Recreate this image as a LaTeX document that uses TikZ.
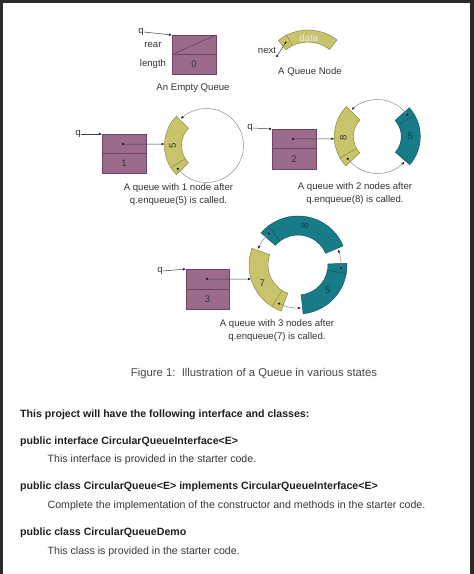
\documentclass[tikz,border=0pt]{standalone}
\usepackage{fontspec}
\setmainfont{Liberation Sans}
\usetikzlibrary{arrows.meta}

\definecolor{qpurple}{HTML}{9C6B8C}
\definecolor{qpurpleD}{HTML}{6E4463}
\definecolor{qyellow}{HTML}{C8C46C}
\definecolor{qyellowD}{HTML}{8C8842}
\definecolor{qteal}{HTML}{187B88}
\definecolor{qtealD}{HTML}{0F5662}
\definecolor{qline}{HTML}{8E8E8E}
\definecolor{qtext}{HTML}{333333}
\definecolor{qframe}{HTML}{2A2A2A}

\newcommand{\dfont}{\fontsize{9.6}{13}\selectfont}
\newcommand{\bodyfont}{\fontsize{10.6}{12}\selectfont}
\newcommand{\capfont}{\fontsize{11.3}{13}\selectfont}

% annular band: #1 start, #2 end, #3 inner r, #4 outer r, #5 fill, #6 draw, #7 compartment angle
\newcommand{\qband}[7]{%
  \filldraw[fill=#5, draw=#6, line width=0.5pt] (#1:#4) arc[start angle=#1, end angle=#2, radius=#4] -- (#2:#3) arc[start angle=#2, end angle=#1, radius=#3] -- cycle;
  \draw[draw=#6, line width=0.5pt] (#7:#3) -- (#7:#4);}

\begin{document}
\begin{tikzpicture}[x=1pt,y=-1pt,
  lbl/.style={text=qtext, font=\dfont, inner sep=0pt},
  qbox/.style={fill=qpurple, draw=qpurpleD, line width=0.5pt},
  ptr/.style={draw=qline, line width=0.5pt, -{Latex[length=3pt,width=2.6pt,color=black!85]}},
  ptrk/.style={draw=black!75, line width=0.5pt, -{Latex[length=3pt,width=2.6pt,color=black!85]}},
  body/.style={anchor=west, inner sep=0pt, font=\bodyfont, text=black!88}]
\useasboundingbox (0,0) rectangle (474,574);
\fill[qframe] (0,0) rectangle (474,574);
\fill[white] (3,2.5) rectangle (470,574);

% ---------------- empty queue ----------------
\fill[qbox] (172,35) rectangle (216,74);
\draw[qpurpleD, line width=0.5pt] (172,54.5) -- (216,54.5);
\draw[qpurpleD, line width=0.7pt] (172,54.5) -- (216,35);
\coordinate (e0) at (172,35);
\node[lbl] (eq) at (141,32) {q};
\draw[ptrk] (eq.east) -- (e0);
\node[lbl] (erear) at (153,45) {rear};
\node[lbl] (elen) at (153,64.5) {length};
\node[lbl] (ezero) at (194,64.5) {0};
\node[lbl] (ecap) at (193,88) {An Empty Queue};

% ---------------- a queue node ----------------
\begin{scope}[shift={(308,77)}, yscale=-1]
  \qband{52}{129}{35}{47}{qyellow}{qyellowD}{117}
  \coordinate (qnd) at (123:41);
  \coordinate (qdata) at (89:39);
\end{scope}
\coordinate (qnf) at (277,56);
\fill[black] (qnd) circle[radius=1.1pt];
\fill[black] (qnf) circle[radius=1.1pt];
\draw[black!75, line width=0.5pt] (qnd) -- (qnf);
\node[lbl, text=white!92!black] (qdt) at (qdata) {data};
\node[lbl] (qnext) at (267,50) {next};
\node[lbl] (qcap) at (310,72) {A Queue Node};

% ---------------- state 1 ----------------
\fill[qbox] (102,134) rectangle (146,173);
\draw[qpurpleD, line width=0.5pt] (102,153.5) -- (146,153.5);
\coordinate (b1c) at (102,134);
\coordinate (b1d) at (123,144);
\node[lbl] (q1) at (78,134) {q};
\draw[ptrk] (q1.east) -- (b1c);
\node[lbl] (n1) at (124,163.5) {1};
\begin{scope}[shift={(206.5,145.5)}, yscale=-1]
  \qband{136}{224}{25}{42}{qyellow}{qyellowD}{212}
  \coordinate (s1n) at (219:37);
  \coordinate (s1in) at (178:42);
  \coordinate (s1t) at (181:34);
  \draw[ptr] (s1n) arc[start angle=219, end angle=494, radius=37];
\end{scope}
\fill[black] (s1n) circle[radius=1.1pt];
\fill[black] (b1d) circle[radius=1.1pt];
\draw[ptrk] (b1d) -- (s1in);
\node[lbl, rotate=90] (s1v) at (s1t) {5};
\node[lbl, align=center] (c1) at (178.5,194.5) {A queue with 1 node after\\q.enqueue(5) is called.};

% ---------------- state 2 ----------------
\fill[qbox] (272,129) rectangle (316,169);
\draw[qpurpleD, line width=0.5pt] (272,148.5) -- (316,148.5);
\coordinate (b2c) at (272,129);
\coordinate (b2d) at (293,139);
\node[lbl] (q2) at (250,128) {q};
\draw[ptrk] (q2.east) -- (b2c);
\node[lbl] (n2) at (294,159) {2};
\begin{scope}[shift={(377.3,136.5)}, yscale=-1]
  \qband{136}{223}{24}{43}{qyellow}{qyellowD}{210}
  \qband{-41}{42}{24}{43}{qteal}{qtealD}{30}
  \coordinate (s2yn) at (217:37);
  \coordinate (s2tn) at (36:37);
  \coordinate (s2in) at (183:43);
  \coordinate (s2yt) at (183:34);
  \coordinate (s2tt) at (0:33);
  \draw[ptr] (s2yn) arc[start angle=217, end angle=317, radius=37];
  \draw[ptr] (s2tn) arc[start angle=36, end angle=134, radius=37];
\end{scope}
\fill[black] (s2yn) circle[radius=1.1pt];
\fill[black] (s2tn) circle[radius=1.1pt];
\fill[black] (b2d) circle[radius=1.1pt];
\draw[ptrk] (b2d) -- (s2in);
\node[lbl, rotate=90] (s2v8) at (s2yt) {8};
\node[lbl, text=qtealD!70!black] (s2v5) at (s2tt) {5};
\node[lbl, align=center] (c2) at (355,193.5) {A queue with 2 nodes after\\q.enqueue(8) is called.};

% ---------------- state 3 ----------------
\fill[qbox] (186,269) rectangle (229,309);
\draw[qpurpleD, line width=0.5pt] (186,289) -- (229,289);
\coordinate (b3c) at (186,269);
\coordinate (b3d) at (207,279);
\node[lbl] (q3) at (160,271) {q};
\draw[ptrk] (q3.east) -- (b3c);
\node[lbl] (n3) at (207.5,299) {3};
\begin{scope}[shift={(298,265)}, yscale=-1]
  \qband{160}{250}{30}{49}{qyellow}{qyellowD}{238}
  \qband{276}{362}{30}{49}{qteal}{qtealD}{350}
  \qband{23}{139}{30}{49}{qteal}{qtealD}{127}
  \coordinate (s3yn) at (244:43);
  \coordinate (s3rn) at (356:43);
  \coordinate (s3tn) at (133:43);
  \coordinate (s3in) at (196.6:49);
  \coordinate (s3yt) at (207:40);
  \coordinate (s3rt) at (320:39);
  \coordinate (s3tt) at (80:40);
  \draw[ptr] (s3yn) arc[start angle=244, end angle=274, radius=43];
  \draw[ptr] (s3rn) arc[start angle=356, end angle=381, radius=43];
  \draw[ptr] (s3tn) arc[start angle=133, end angle=158, radius=43];
\end{scope}
\fill[black] (s3yn) circle[radius=1.1pt];
\fill[black] (s3rn) circle[radius=1.1pt];
\fill[black] (s3tn) circle[radius=1.1pt];
\fill[black] (b3d) circle[radius=1.1pt];
\draw[ptrk] (b3d) -- (s3in);
\node[lbl] (s3v7) at (s3yt) {7};
\node[lbl, text=qtealD!70!black] (s3v5) at (s3rt) {5};
\node[lbl, rotate=90, text=qtealD!70!black] (s3v8) at (s3tt) {8};
\node[lbl, align=center] (c3) at (277,331) {A queue with 3 nodes after\\q.enqueue(7) is called.};

% ---------------- caption and text ----------------
\node[inner sep=0pt, font=\capfont, text=black!72] (fc) at (254,373.5) {Figure 1:\ \ Illustration of a Queue in various states};

\node[body, font=\bodyfont\bfseries] (t1) at (20,414.5) {This project will have the following interface and classes:};
\node[body, font=\bodyfont\bfseries] (t2) at (20,441.5) {public interface CircularQueueInterface<E>};
\node[body, text=black!78] (t3) at (47.5,460) {This interface is provided in the starter code.};
\node[body, font=\bodyfont\bfseries] (t4) at (20,487) {public class CircularQueue<E> implements CircularQueueInterface<E>};
\node[body, text=black!78] (t5) at (47.5,506) {Complete the implementation of the constructor and methods in the starter code.};
\node[body, font=\bodyfont\bfseries] (t6) at (20,532.5) {public class CircularQueueDemo};
\node[body, text=black!78] (t7) at (47.5,551.5) {This class is provided in the starter code.};
\end{tikzpicture}
\end{document}
